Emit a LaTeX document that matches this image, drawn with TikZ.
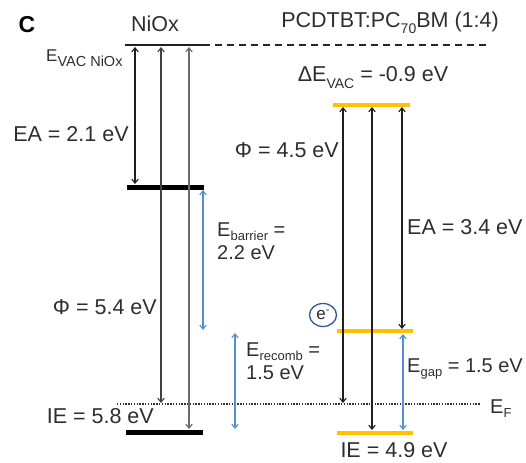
\documentclass[tikz,border=0pt]{standalone}
\usepackage{fontspec}
\setmainfont{Liberation Sans}
\usetikzlibrary{arrows.meta,shapes.geometric}
\definecolor{lvlorange}{HTML}{FFC000}
\definecolor{lvlblue}{HTML}{5590D6}
\definecolor{circblue}{HTML}{2F5597}
\newcommand{\lsub}[1]{\raisebox{-0.3em}{\fontsize{14}{14}\selectfont #1}}
\newcommand{\msub}[1]{\raisebox{-0.22em}{\fontsize{13}{13}\selectfont #1}}
\begin{document}
\begin{tikzpicture}[x=1pt,y=-1pt,
  lbl/.style={font=\fontsize{21.5}{24}\selectfont, inner sep=0pt, text=black!82},
  slbl/.style={font=\fontsize{20}{22}\selectfont, inner sep=0pt, text=black!82},
  arr/.style={line width=1.1pt, {Straight Barb[length=4pt,width=6.5pt]}-{Straight Barb[length=4pt,width=6.5pt]}},
  arrA/.style={arr, draw=black!88},
  arrB/.style={arr, draw=black!75},
  arrC/.style={arr, draw=black!58},
  barr/.style={arr, draw=lvlblue},
  thinlvl/.style={line width=1.8pt, draw=black!88},
  thicklvl/.style={line width=5pt, draw=black},
  orlvl/.style={line width=4.5pt, draw=lvlorange}
]
\path[use as bounding box] (0,0) rectangle (526,462);

% NiOx levels
\coordinate (vacL) at (125,45); \coordinate (vacR) at (203,45);
\coordinate (eaL) at (127,187); \coordinate (eaR) at (204,187);
\coordinate (ieL) at (126,432); \coordinate (ieR) at (203,432);
\coordinate (dashEnd) at (490,45);
\coordinate (efL) at (117,404); \coordinate (efR) at (480,404);
\draw[thinlvl] (vacL) -- (vacR);
\draw[black!85, line width=1.2pt, dash pattern=on 7pt off 5pt] (vacR) -- (dashEnd);
\draw[thicklvl] (eaL) -- (eaR);
\draw[thicklvl] (ieL) -- (ieR);
\draw[black!80, line width=1.1pt, dash pattern=on 1.4pt off 1.4pt] (efL) -- (efR);

% PCDTBT levels
\coordinate (pvL) at (333,105); \coordinate (pvR) at (410,105);
\coordinate (pcL) at (337,331); \coordinate (pcR) at (413,331);
\coordinate (pbL) at (337,433); \coordinate (pbR) at (413,433);
\draw[orlvl] (pvL) -- (pvR);
\draw[orlvl] (pcL) -- (pcR);
\draw[orlvl] (pbL) -- (pbR);

% NiOx arrows
\coordinate (a1t) at (135,47); \coordinate (a1b) at (135,184);
\coordinate (a2t) at (161,47); \coordinate (a2b) at (161,403);
\coordinate (a3t) at (189,47); \coordinate (a3b) at (189,429);
\draw[arrA] (a1t) -- (a1b);
\draw[arrB] (a2t) -- (a2b);
\draw[arrC] (a3t) -- (a3b);

% PCDTBT arrows
\coordinate (b1t) at (343,107); \coordinate (b1b) at (343,403);
\coordinate (b2t) at (372,107); \coordinate (b2b) at (372,430);
\coordinate (b3t) at (402,107); \coordinate (b3b) at (402,329);
\draw[arrA] (b1t) -- (b1b);
\draw[arrA] (b2t) -- (b2b);
\draw[arrA] (b3t) -- (b3b);

% blue arrows
\coordinate (c1t) at (203,190); \coordinate (c1b) at (203,330);
\coordinate (c2t) at (235,333); \coordinate (c2b) at (235,429);
\coordinate (c3t) at (403,334); \coordinate (c3b) at (403,430);
\draw[barr] (c1t) -- (c1b);
\draw[barr] (c2t) -- (c2b);
\draw[barr] (c3t) -- (c3b);

% labels
\node[lbl, font=\fontsize{23}{24}\selectfont\bfseries, text=black] (C) at (27,25) {C};
\node[lbl] (nio) at (155,24) {NiOx};
\node[lbl] (pcd) at (390,23) {PCDTBT:PC\lsub{70}BM (1:4)};
\node[lbl, anchor=base west, font=\fontsize{17}{18}\selectfont] (evac) at (46,62) {E\raisebox{-0.25em}{\fontsize{14.5}{15}\selectfont VAC NiOx}};
\node[lbl] (ea1) at (71,134) {EA = 2.1 eV};
\node[lbl, anchor=east] (phi2) at (339,150) {Φ = 4.5 eV};
\node[lbl, anchor=base] (dvac) at (373,82) {ΔE\lsub{VAC} = -0.9 eV};
\node[lbl, anchor=west] (ea2) at (407,227) {EA = 3.4 eV};
\node[lbl, anchor=east] (phi1) at (157,307) {Φ = 5.4 eV};
\node[lbl, anchor=east] (ie1) at (154,416) {IE = 5.8 eV};
\node[slbl, anchor=base west] (eg) at (407,372) {E\msub{gap} = 1.5 eV};
\node[slbl, anchor=base west] (ef) at (490,413) {E\msub{F}};
\node[lbl] (ie2) at (394,450) {IE = 4.9 eV};
\node[slbl, anchor=base west] (ebar) at (217,236) {E\msub{barrier} =};
\node[slbl, anchor=base west] (ebar2) at (217,259) {2.2 eV};
\node[slbl, anchor=base west] (erec) at (246,356) {E\msub{recomb} =};
\node[slbl, anchor=base west] (erec2) at (246,379) {1.5 eV};
\node[ellipse, draw=circblue, line width=1.3pt, inner sep=0pt, minimum width=27pt, minimum height=23pt, font=\fontsize{17}{18}\selectfont, text=black!82] (elec) at (323,315) {e\raisebox{0.35em}{\fontsize{11}{11}\selectfont -}};
\end{tikzpicture}
\end{document}
